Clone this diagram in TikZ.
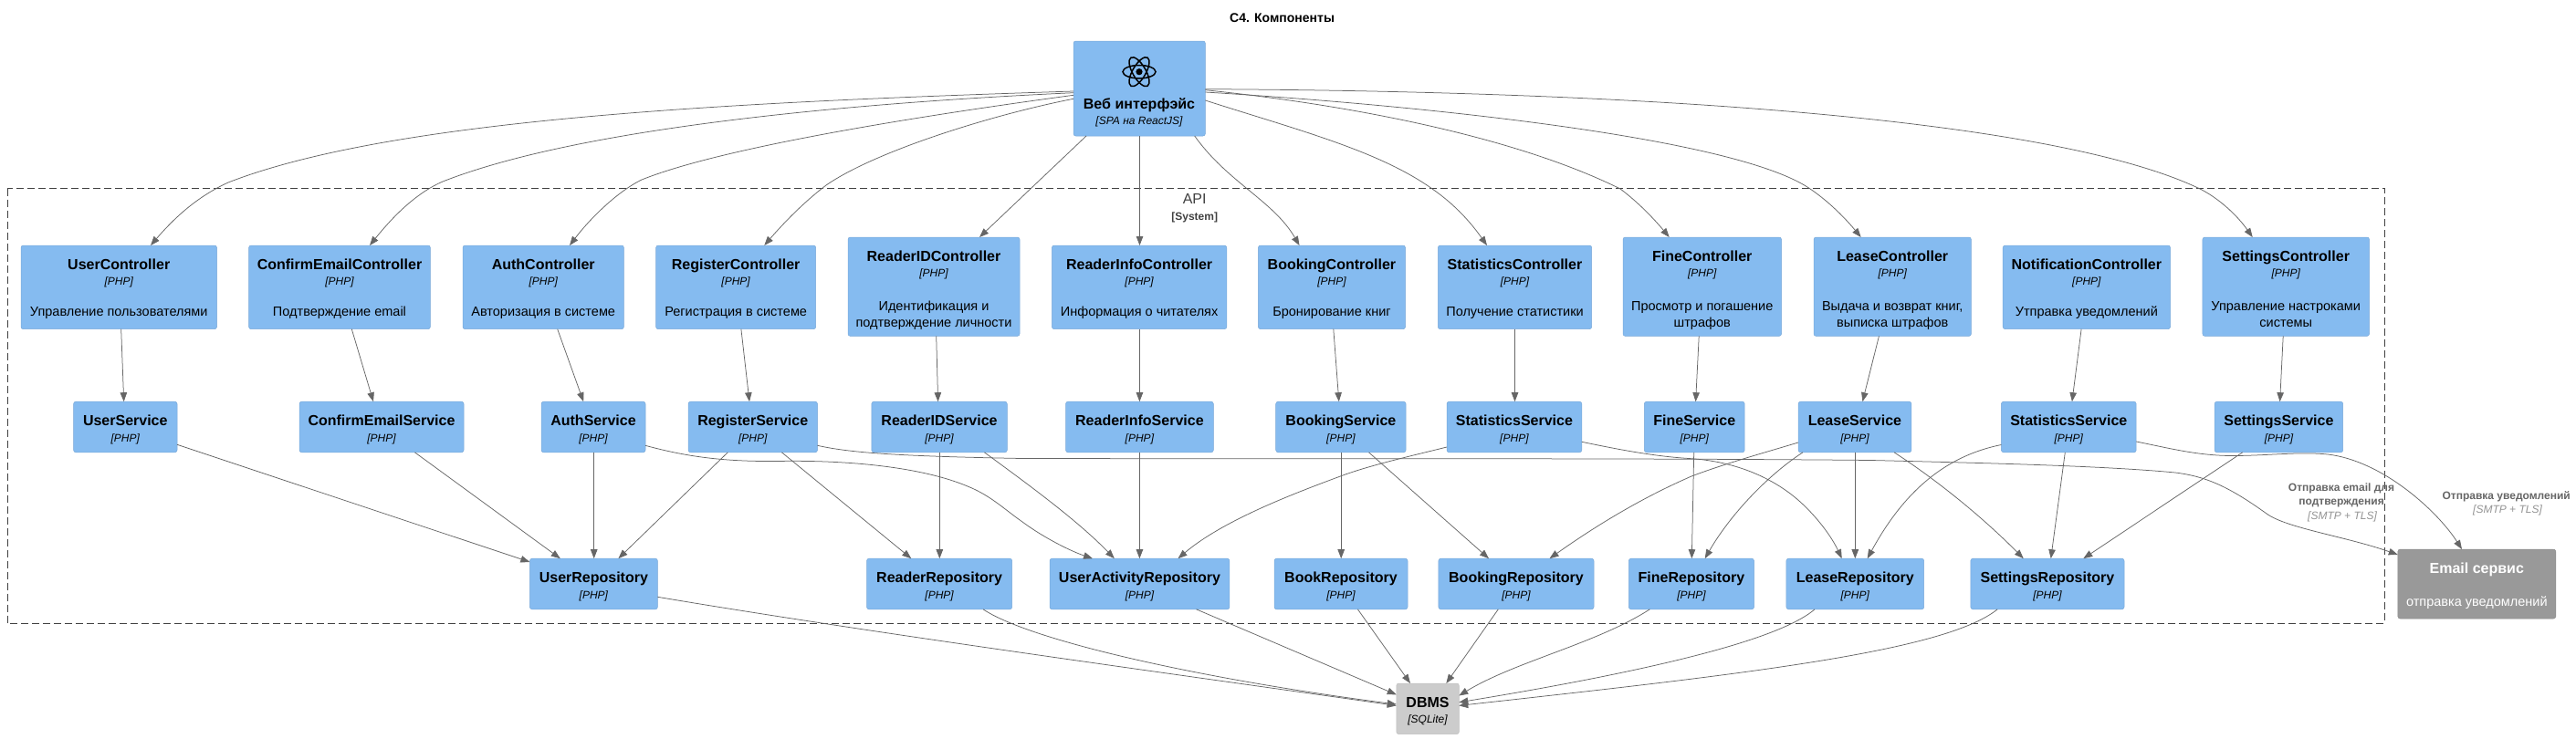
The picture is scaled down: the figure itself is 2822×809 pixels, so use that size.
\documentclass[tikz,border=0pt]{standalone}
\usepackage{fontspec}
\setmainfont{Liberation Sans}
\usetikzlibrary{arrows.meta}
\definecolor{compfill}{HTML}{85BBF0}
\definecolor{compline}{HTML}{78A8D8}
\definecolor{edgecol}{HTML}{666666}
\definecolor{dbfill}{HTML}{CCCCCC}
\definecolor{dbline}{HTML}{BFBFBF}
\definecolor{extfill}{HTML}{999999}
\definecolor{extline}{HTML}{8A8A8A}
\tikzset{
  x=1pt,y=-1pt,
  txt/.style={inner sep=0pt,outer sep=0pt,text height=.72em,text depth=0pt,align=center,yshift=-1.3pt},
  nm/.style={txt,font=\fontsize{16}{18}\selectfont\bfseries},
  tech/.style={txt,font=\fontsize{12}{14}\selectfont\itshape},
  dsc/.style={txt,font=\fontsize{14.5}{18}\selectfont},
  rel/.style={txt,font=\fontsize{12}{15}\selectfont\bfseries,text=edgecol},
  reltech/.style={txt,font=\fontsize{12}{14}\selectfont\itshape,text=gray!85},
  edge/.style={draw=edgecol,line width=.75pt,-{Triangle[length=10pt,width=7.5pt]}},
  boundary/.style={draw=black!75,line width=.9pt,dash pattern=on 8pt off 4pt},
}
% id, x1,y1,x2,y2, name, tech, description, description centre offset from the top
\newcommand\comp[9]{%
  \path[draw=compline,fill=compfill,rounded corners=2.5pt,line width=.5pt]
    (#2,#3) rectangle (#4,#5);
  \node[inner sep=0pt,outer sep=0pt,minimum width=#4pt-#2pt,minimum height=#5pt-#3pt] (#1) at ({(#2+#4)/2},{(#3+#5)/2}) {};
  \node[nm] (#1-n) at ({(#2+#4)/2},{#3+21.5}) {#6};
  \node[tech] (#1-t) at ({(#2+#4)/2},{#3+39}) {#7};
  \node[dsc] (#1-d) at ({(#2+#4)/2},{#3+#9}) {#8};
}
\begin{document}
\begin{tikzpicture}
\useasboundingbox (0,0) rectangle (2822,809);
\node[txt,font=\fontsize{14}{16}\selectfont\bfseries] (title) at (1404.6,20) {C4. Компоненты};
\path[boundary] (8,206.5) rectangle (2612,683.3);
\node[txt,font=\fontsize{16}{18}\selectfont,text=black!75] (api) at (1308.7,219) {API};
\node[txt,font=\fontsize{12}{14}\selectfont\bfseries,text=black!75] (apisys) at (1308.7,237) {[System]};

% web
\path[draw=compline,fill=compfill,rounded corners=2.5pt,line width=.5pt] (1176,45) rectangle (1320.4,149);
\node[inner sep=0pt,outer sep=0pt,minimum width=144.4pt,minimum height=104pt] (WEB) at (1248.2,97) {};
\node[nm] (WEB-n) at (1248,114.5) {Веб интерфэйс};
\node[tech] (WEB-t) at (1248,131.5) {[SPA на ReactJS]};
\fill[black] (1248,78.7) circle (3.6pt);
\foreach \a in {0,60,120}
  \draw[black,line width=1.5pt,rotate around={\a:(1248,78.7)}] (1248,78.7) ellipse (18pt and 7.2pt);

% controllers
\comp{UC}{23}{269}{237.5}{360.7}{UserController}{[PHP]}{Управление пользователями}{73}
\comp{CEC}{272.6}{269}{471.4}{360.7}{ConfirmEmailController}{[PHP]}{Подтверждение email}{73}
\comp{AC}{507}{269}{683.4}{360.7}{AuthController}{[PHP]}{Авторизация в системе}{73}
\comp{RC}{718.6}{269}{893.7}{360.7}{RegisterController}{[PHP]}{Регистрация в системе}{73}
\comp{RIDC}{929}{260}{1117}{368.4}{ReaderIDController}{[PHP]}{Идентификация и\\подтверждение личности}{93.5}
\comp{RIC}{1152.4}{269}{1343.8}{360.7}{ReaderInfoController}{[PHP]}{Информация о читателях}{73}
\comp{BC}{1378.4}{269}{1539.5}{360.7}{BookingController}{[PHP]}{Бронирование книг}{73}
\comp{SC}{1575.3}{269}{1743.7}{360.7}{StatisticsController}{[PHP]}{Получение статистики}{73}
\comp{FC}{1778}{260}{1951.5}{368.4}{FineController}{[PHP]}{Просмотр и погашение\\штрафов}{93.5}
\comp{LC}{1987}{260}{2159.4}{368.4}{LeaseController}{[PHP]}{Выдача и возврат книг,\\выписка штрафов}{93.5}
\comp{NC}{2194.2}{269}{2377.5}{360.7}{NotificationController}{[PHP]}{Утправка уведомлений}{73}
\comp{SEC}{2412.9}{260}{2595.5}{368.4}{SettingsController}{[PHP]}{Управление настроками\\системы}{93.5}

% services
\comp{US}{80.6}{440.2}{194}{495.8}{UserService}{[PHP]}{}{50}
\comp{CES}{328}{440.2}{508}{495.8}{ConfirmEmailService}{[PHP]}{}{50}
\comp{AS}{593}{440.2}{707}{495.8}{AuthService}{[PHP]}{}{50}
\comp{RS}{754}{440.2}{895.5}{495.8}{RegisterService}{[PHP]}{}{50}
\comp{RIDS}{954.8}{440.2}{1103.3}{495.8}{ReaderIDService}{[PHP]}{}{50}
\comp{RIS}{1167.5}{440.2}{1329.3}{495.8}{ReaderInfoService}{[PHP]}{}{50}
\comp{BS}{1397.7}{440.2}{1540.1}{495.8}{BookingService}{[PHP]}{}{50}
\comp{SS}{1585}{440.2}{1732.8}{495.8}{StatisticsService}{[PHP]}{}{50}
\comp{FS}{1801.3}{440.2}{1911.2}{495.8}{FineService}{[PHP]}{}{50}
\comp{LS}{1970}{440.2}{2093.9}{495.8}{LeaseService}{[PHP]}{}{50}
\comp{NS}{2192.4}{440.2}{2340.2}{495.8}{StatisticsService}{[PHP]}{}{50}
\comp{SES}{2426.1}{440.2}{2566.7}{495.8}{SettingsService}{[PHP]}{}{50}

% repositories
\comp{UR}{580.4}{612.2}{720.4}{667.8}{UserRepository}{[PHP]}{}{50}
\comp{RR}{949.5}{612.2}{1108.7}{667.8}{ReaderRepository}{[PHP]}{}{50}
\comp{UAR}{1150}{612.2}{1346.9}{667.8}{UserActivityRepository}{[PHP]}{}{50}
\comp{BOR}{1396}{612.2}{1542}{667.8}{BookRepository}{[PHP]}{}{50}
\comp{BGR}{1575.9}{612.2}{1746}{667.8}{BookingRepository}{[PHP]}{}{50}
\comp{FR}{1784.3}{612.2}{1921.5}{667.8}{FineRepository}{[PHP]}{}{50}
\comp{LR}{1956.9}{612.2}{2107.7}{667.8}{LeaseRepository}{[PHP]}{}{50}
\comp{SR}{2158.8}{612.2}{2327}{667.8}{SettingsRepository}{[PHP]}{}{50}

% DBMS
\path[draw=dbline,fill=dbfill,rounded corners=2.5pt,line width=.5pt] (1529.8,749) rectangle (1598.3,804.6);
\node[inner sep=0pt,outer sep=0pt,minimum width=68.5pt,minimum height=55.6pt] (DB) at (1564,776.8) {};
\node[nm] (DB-n) at (1564,770.5) {DBMS};
\node[tech] (DB-t) at (1564,787.7) {[SQLite]};

% email
\path[draw=extline,fill=extfill,rounded corners=2.5pt,line width=.5pt] (2626.8,602.1) rectangle (2799.8,678);
\node[inner sep=0pt,outer sep=0pt,minimum width=173pt,minimum height=75.9pt] (EM) at (2713.3,640) {};
\node[nm,text=white] (EM-n) at (2713.3,623.5) {Email сервис};
\node[dsc,text=white] (EM-d) at (2713.3,660) {отправка уведомлений};

% relation labels
\node[rel] (l1) at (2565,548.5) {Отправка email для\\подтверждения};
\node[reltech] (l1t) at (2566,564.7) {[SMTP + TLS]};
\node[rel] (l2) at (2745.7,543) {Отправка уведомлений};
\node[reltech] (l2t) at (2747,557.5) {[SMTP + TLS]};

% web -> controllers
\draw[edge] (WEB.west |- 0,100) .. controls (800,112) and (430,130) .. (250,200) .. controls (215,216) and (190,240) .. (165,0 |- UC.north);
\path[edge,draw] (WEB.west |- 0,101.7) .. controls (950,112) and (640,138) .. (485,199) .. controls (455,212) and (430,238) .. (405,0 |- CEC.north);
\draw[edge] (WEB.west |- 0,104.3) .. controls (1000,128) and (790,162) .. (703,197) .. controls (680,208) and (650,235) .. (624,0 |- AC.north);
\draw[edge] (WEB.west |- 0,108.3) .. controls (1090,125) and (960,165) .. (905,203) .. controls (880,222) and (858,245) .. (837.3,0 |- RC.north);
\draw[edge] (1190,0 |- WEB.south) -- (1073,0 |- RIDC.north);
\draw[edge] (1248.5,0 |- WEB.south) -- (1248.5,0 |- RIC.north);
\draw[edge] (1308.7,0 |- WEB.south) .. controls (1345,200) and (1395,220) .. (1423.5,0 |- BC.north);
\draw[edge] (WEB.east |- 0,110) .. controls (1420,142) and (1510,165) .. (1569,207) .. controls (1595,225) and (1612,245) .. (1629,0 |- SC.north);
\draw[edge] (WEB.east |- 0,98.7) .. controls (1480,115) and (1660,150) .. (1775,207) .. controls (1795,222) and (1812,240) .. (1828.7,0 |- FC.north);
\draw[edge] (WEB.east |- 0,101) .. controls (1550,115) and (1900,150) .. (1983,207) .. controls (2005,222) and (2022,240) .. (2038.7,0 |- LC.north);
\draw[edge] (WEB.east |- 0,97.7) .. controls (1800,100) and (2250,130) .. (2410,207) .. controls (2430,217) and (2450,235) .. (2467.7,0 |- SEC.north);

% controllers -> services
\draw[edge] (132.7,0 |- UC.south) -- (135.7,0 |- US.north);
\draw[edge] (385.3,0 |- CEC.south) -- (409,0 |- CES.north);
\draw[edge] (610.7,0 |- AC.south) -- (639.2,0 |- AS.north);
\draw[edge] (811.9,0 |- RC.south) -- (821,0 |- RS.north);
\draw[edge] (1025.7,0 |- RIDC.south) -- (1027.6,0 |- RIDS.north);
\draw[edge] (1248.4,0 |- RIC.south) -- (1248.4,0 |- RIS.north);
\draw[edge] (1460.8,0 |- BC.south) -- (1466.8,0 |- BS.north);
\draw[edge] (1659.5,0 |- SC.south) -- (1659.5,0 |- SS.north);
\draw[edge] (1861.2,0 |- FC.south) -- (1857.6,0 |- FS.north);
\draw[edge] (2058.4,0 |- LC.south) -- (2040.4,0 |- LS.north);
\draw[edge] (2280.1,0 |- NC.south) -- (2269.9,0 |- NS.north);
\draw[edge] (2501.2,0 |- SEC.south) -- (2497.6,0 |- SES.north);

% services -> repositories
\draw[edge] (US.east |- 0,487.3) -- (UR.west |- 0,616);
\draw[edge] (454.4,0 |- CES.south) -- (613.8,0 |- UR.north);
\draw[edge] (650.7,0 |- AS.south) -- (650.7,0 |- UR.north);
\draw[edge] (797.3,0 |- RS.south) -- (677.4,0 |- UR.north);
\draw[edge] (856.4,0 |- RS.south) -- (998.3,0 |- RR.north);
\draw[edge] (1029.3,0 |- RIDS.south) -- (1029.3,0 |- RR.north);
\draw[edge] (1078.4,0 |- RIDS.south) .. controls (1125,530) and (1180,570) .. (1220.8,0 |- UAR.north);
\draw[edge] (AS.east |- 0,488.3) .. controls (750,500) and (790,506) .. (850,505.5) .. controls (930,504) and (1010,512) .. (1060,533) .. controls (1085,543) and (1100,558) .. (1120,572) .. controls (1140,587) and (1170,603) .. (1197,0 |- UAR.north);
\draw[edge] (RS.east |- 0,488.3) .. controls (930,496) and (980,500) .. (1120,502.5) .. controls (1400,503) and (1800,502) .. (2050,504.5) .. controls (2150,507) and (2300,510) .. (2383,518) .. controls (2415,522) and (2440,532) .. (2483,563) .. controls (2505,579) and (2570,588) .. (EM.west |- 0,608);
\draw[edge] (1248.4,0 |- RIS.south) -- (1248.4,0 |- UAR.north);
\draw[edge] (SS.west |- 0,490) .. controls (1545,500) and (1500,510) .. (1467,522.5) .. controls (1420,540) and (1340,570) .. (1290.5,0 |- UAR.north);
\draw[edge] (1469.2,0 |- BS.south) -- (1469.2,0 |- BOR.north);
\draw[edge] (1499.5,0 |- BS.south) -- (1631,0 |- BGR.north);
\draw[edge] (SS.east |- 0,484.3) .. controls (1770,492) and (1810,500) .. (1850,502.5) .. controls (1895,505) and (1935,520) .. (1965,544) .. controls (1985,560) and (2005,585) .. (2017.7,0 |- LR.north);
\draw[edge] (1855.7,0 |- FS.south) -- (1853.3,0 |- FR.north);
\draw[edge] (LS.west |- 0,485) .. controls (1930,497) and (1890,508) .. (1853,522) .. controls (1800,545) and (1750,575) .. (1697.5,0 |- BGR.north);
\draw[edge] (1975,0 |- LS.south) .. controls (1935,522) and (1895,565) .. (1867.7,0 |- FR.north);
\draw[edge] (2032.3,0 |- LS.south) -- (2032.3,0 |- LR.north);
\draw[edge] (2075,0 |- LS.south) .. controls (2120,525) and (2170,565) .. (2216.7,0 |- SR.north);
\draw[edge] (NS.west |- 0,487.5) .. controls (2130,500) and (2085,540) .. (2045.7,0 |- LR.north);
\draw[edge] (2262.3,0 |- NS.south) -- (2246.7,0 |- SR.north);
\draw[edge] (NS.east |- 0,484) .. controls (2380,492) and (2410,500) .. (2450,499.5) .. controls (2490,499) and (2520,495) .. (2550,498) .. controls (2610,505) and (2670,560) .. (2697,0 |- EM.north);
\draw[edge] (2456.7,0 |- SES.south) -- (2282.3,0 |- SR.north);

% repositories -> DBMS
\draw[edge] (UR.east |- 0,654.3) .. controls (950,693) and (1280,738) .. (DB.west |- 0,773.4);
\draw[edge] (1077,0 |- RR.south) .. controls (1125,700) and (1300,742) .. (DB.west |- 0,772);
\draw[edge] (1310.5,0 |- UAR.south) -- (DB.west |- 0,761.4);
\draw[edge] (1487.4,0 |- BOR.south) -- (1545,0 |- DB.north);
\draw[edge] (1641.3,0 |- BGR.south) -- (1584.3,0 |- DB.north);
\draw[edge] (1807.3,0 |- FR.south) .. controls (1750,705) and (1660,725) .. (DB.east |- 0,762.5);
\draw[edge] (1988,0 |- LR.south) .. controls (1945,705) and (1780,740) .. (DB.east |- 0,769.8);
\draw[edge] (2188.2,0 |- SR.south) .. controls (2130,715) and (1900,740) .. (DB.east |- 0,773.4);
\end{tikzpicture}
\end{document}
